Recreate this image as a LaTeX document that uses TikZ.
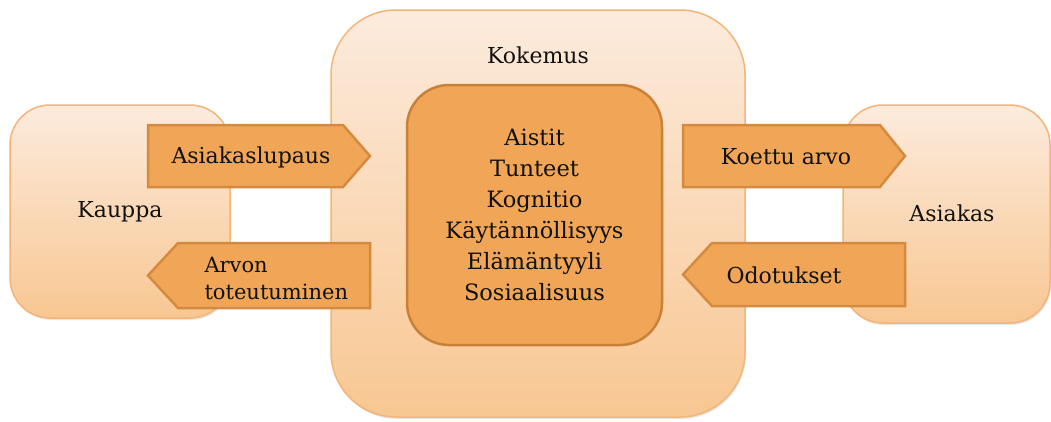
\documentclass[tikz,border=0pt]{standalone}
\usepackage{fontspec}
\setmainfont{DejaVu Serif}
\usetikzlibrary{shadows}
\definecolor{peachtop}{HTML}{FCEBDD}
\definecolor{peachbot}{HTML}{F8C792}
\definecolor{peachline}{HTML}{F3B578}
\definecolor{orangefill}{HTML}{F0A656}
\definecolor{orangeline}{HTML}{C98038}
\definecolor{arrowline}{HTML}{D58A40}
\definecolor{txt}{HTML}{111111}
\begin{document}
\begin{tikzpicture}[x=1pt,y=-1pt,
  every node/.style={font=\fontsize{22}{31}\selectfont, text=txt},
  outerbox/.style={draw=peachline, line width=1.5pt, top color=peachtop, bottom color=peachbot,
    drop shadow={opacity=0.2, shadow xshift=1pt, shadow yshift=-2pt}},
  innerbox/.style={draw=orangeline, line width=2.5pt, fill=orangefill, rounded corners=42pt},
  arrowshape/.style={draw=arrowline, line width=2.5pt, fill=orangefill, line join=miter}]
\useasboundingbox (0,0) rectangle (1051,421);

% side boxes
\node[outerbox, rounded corners=40pt, minimum width=220pt, minimum height=213pt] (kauppa) at (120,211.5) {Kauppa};
\node[outerbox, rounded corners=40pt, minimum width=207pt, minimum height=218pt] (asiakas) at (946.5,214) {};
\node (asiakastxt) at (952,213) {Asiakas};

% central box
\node[outerbox, rounded corners=65pt, minimum width=414pt, minimum height=407pt] (kokemus) at (538,213.5) {};
\node (kokemustxt) at (538,55) {Kokemus};
\node[innerbox, minimum width=255pt, minimum height=260pt, align=center, font=\fontsize{22.5}{31}\selectfont] (osat) at (534.5,215)
  {Aistit\\Tunteet\\Kognitio\\Käytännöllisyys\\Elämäntyyli\\Sosiaalisuus};

% arrows
\draw[arrowshape] (148,125) -- (343,125) -- (370,156) -- (343,187) -- (148,187) -- cycle;
\node (lupaus) at (251,157) {Asiakaslupaus};

\draw[arrowshape] (370,243) -- (178,243) -- (148,275.5) -- (178,308) -- (370,308) -- cycle;
\node[anchor=west, align=left, font=\fontsize{21}{27}\selectfont] (toteutuminen) at (201,278.5) {Arvon\\toteutuminen};

\draw[arrowshape] (683,125) -- (880,125) -- (905,156) -- (880,187) -- (683,187) -- cycle;
\node (koettu) at (786,157) {Koettu arvo};

\draw[arrowshape] (905,243) -- (712,243) -- (683,274.5) -- (712,306) -- (905,306) -- cycle;
\node (odotukset) at (784,275) {Odotukset};
\end{tikzpicture}
\end{document}
